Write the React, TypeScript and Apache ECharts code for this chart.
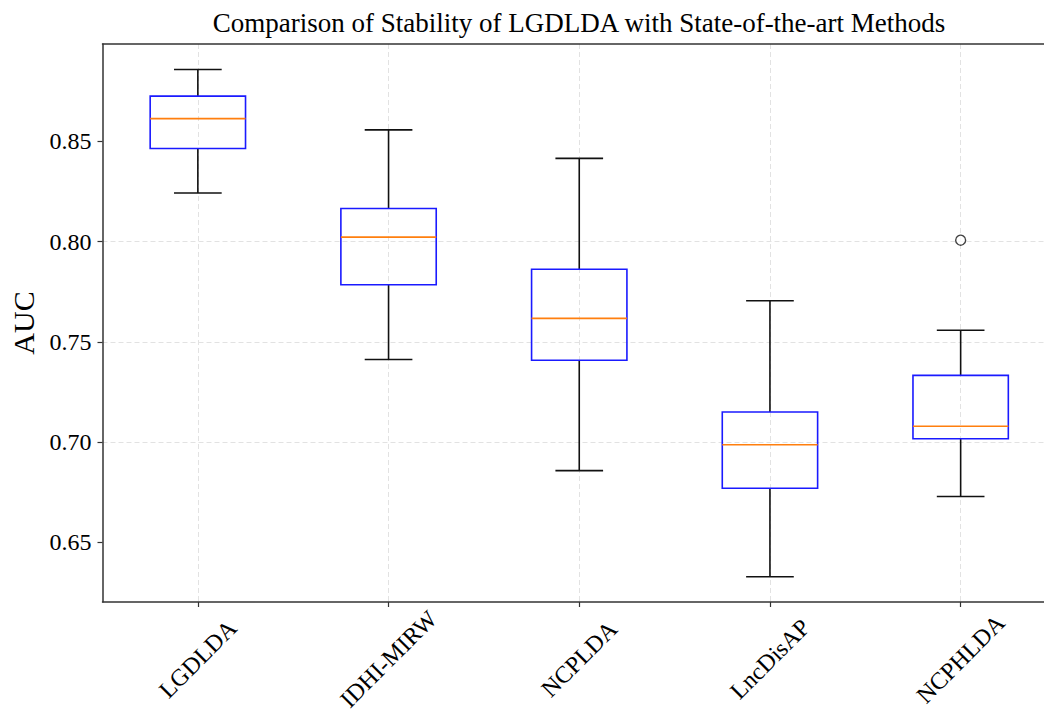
import React, { useEffect, useRef } from 'react';
import * as echarts from 'echarts';

const categories = ['LGDLDA', 'IDHI-MIRW', 'NCPLDA', 'LncDisAP', 'NCPHLDA'];
const whiskerLow = [0.8242, 0.7412, 0.6858, 0.6329, 0.6729];
const q1 = [0.8464, 0.7785, 0.7408, 0.677, 0.7017];
const median = [0.8613, 0.8022, 0.7617, 0.6987, 0.7079];
const q3 = [0.8725, 0.8165, 0.7862, 0.715, 0.7333];
const whiskerHigh = [0.8858, 0.8557, 0.8415, 0.7705, 0.7558];
const outlierCats = ['NCPHLDA'];
const outlierValues = [0.8007];
const yTicks = [0.65, 0.7, 0.75, 0.8, 0.85];

const FONT = "'Liberation Serif', 'Times New Roman', serif";
const GRID_LINE = { color: '#e2e2e2', type: [5, 3] as number[], width: 1 };

export default function App() {
  const ref = useRef<HTMLDivElement>(null);
  useEffect(() => {
    const chart = echarts.init(ref.current!, null, { renderer: 'svg' });
    const boxData = categories.map((_, i) => [i, whiskerLow[i], q1[i], median[i], q3[i], whiskerHigh[i]]);
    const outData = outlierCats.map((c, i) => [categories.indexOf(c), outlierValues[i]]);

    chart.setOption({
      animation: false,
      backgroundColor: '#fff',
      title: {
        text: 'Comparison of Stability of LGDLDA with State-of-the-art Methods',
        left: 574,
        top: 4,
        textAlign: 'center',
        textStyle: { fontFamily: FONT, fontSize: 27, fontWeight: 'normal', color: '#000' },
      },
      grid: {
        left: 102.5,
        right: -12,
        top: 44,
        bottom: 111,
        containLabel: false,
        outerBoundsMode: 'none',
      },
      xAxis: [
        {
          type: 'category',
          data: categories,
          position: 'bottom',
          boundaryGap: true,
          axisLine: { show: true, lineStyle: { color: '#333', width: 1.5 } },
          axisTick: { show: true, alignWithLabel: true, length: 5, lineStyle: { color: '#333', width: 1.2 } },
          axisLabel: {
            interval: 0,
            rotate: 45,
            align: 'center',
            verticalAlign: 'middle',
            margin: 57,
            fontSize: 24,
            fontFamily: FONT,
            color: '#000',
          },
          splitLine: { show: true, alignWithLabel: true, lineStyle: GRID_LINE },
        },
        {
          type: 'category',
          data: categories,
          position: 'top',
          boundaryGap: true,
          axisLine: { show: true, lineStyle: { color: '#333', width: 1.5 } },
          axisTick: { show: false },
          axisLabel: { show: false },
          splitLine: { show: false },
        },
      ],
      yAxis: {
        type: 'value',
        min: 0.6203,
        max: 0.8985,
        name: 'AUC',
        nameLocation: 'middle',
        nameRotate: 90,
        nameGap: 60,
        nameTextStyle: { fontFamily: FONT, fontSize: 30, color: '#000' },
        axisLine: { show: true, lineStyle: { color: '#333', width: 1.5 } },
        axisTick: { show: true, length: 5, lineStyle: { color: '#333', width: 1.2 }, customValues: yTicks },
        axisLabel: {
          customValues: yTicks,
          formatter: (v: number) => v.toFixed(2),
          fontSize: 24,
          fontFamily: FONT,
          color: '#000',
          margin: 11,
        },
        splitLine: { show: true, showMinLine: false, showMaxLine: false, lineStyle: GRID_LINE },
      },
      series: [
        {
          type: 'custom',
          xAxisIndex: 0,
          data: boxData,
          encode: { x: 0, y: [1, 2, 3, 4, 5] },
          renderItem: (params: any, api: any) => {
            const idx = api.value(0);
            const pLo = api.coord([idx, api.value(1)]);
            const pQ1 = api.coord([idx, api.value(2)]);
            const pMed = api.coord([idx, api.value(3)]);
            const pQ3 = api.coord([idx, api.value(4)]);
            const pHi = api.coord([idx, api.value(5)]);
            const band = api.size([1, 0])[0];
            const hb = band * 0.25;
            const hc = band * 0.125;
            const x = pLo[0];
            const black = { stroke: '#111', lineWidth: 1.6 };
            return {
              type: 'group',
              children: [
                { type: 'line', shape: { x1: x, y1: pLo[1], x2: x, y2: pQ1[1] }, style: black },
                { type: 'line', shape: { x1: x, y1: pQ3[1], x2: x, y2: pHi[1] }, style: black },
                { type: 'line', shape: { x1: x - hc, y1: pLo[1], x2: x + hc, y2: pLo[1] }, style: black },
                { type: 'line', shape: { x1: x - hc, y1: pHi[1], x2: x + hc, y2: pHi[1] }, style: black },
                {
                  type: 'rect',
                  shape: { x: x - hb, y: pQ3[1], width: hb * 2, height: pQ1[1] - pQ3[1] },
                  style: { fill: 'none', stroke: '#1a1aff', lineWidth: 1.6 },
                },
                {
                  type: 'line',
                  shape: { x1: x - hb, y1: pMed[1], x2: x + hb, y2: pMed[1] },
                  style: { stroke: '#ff7f0e', lineWidth: 1.6 },
                },
              ],
            };
          },
          z: 3,
        },
        {
          type: 'scatter',
          xAxisIndex: 0,
          data: outData,
          symbol: 'circle',
          symbolSize: 10,
          itemStyle: { color: '#fff', borderColor: '#111', borderWidth: 1.4 },
          z: 4,
        },
      ],
    });
    return () => chart.dispose();
  }, []);
  return (
    <div
      ref={ref}
      style={{ position: 'fixed', left: 0, top: 0, width: 1044, height: 713, background: '#fff' }}
    />
  );
}
